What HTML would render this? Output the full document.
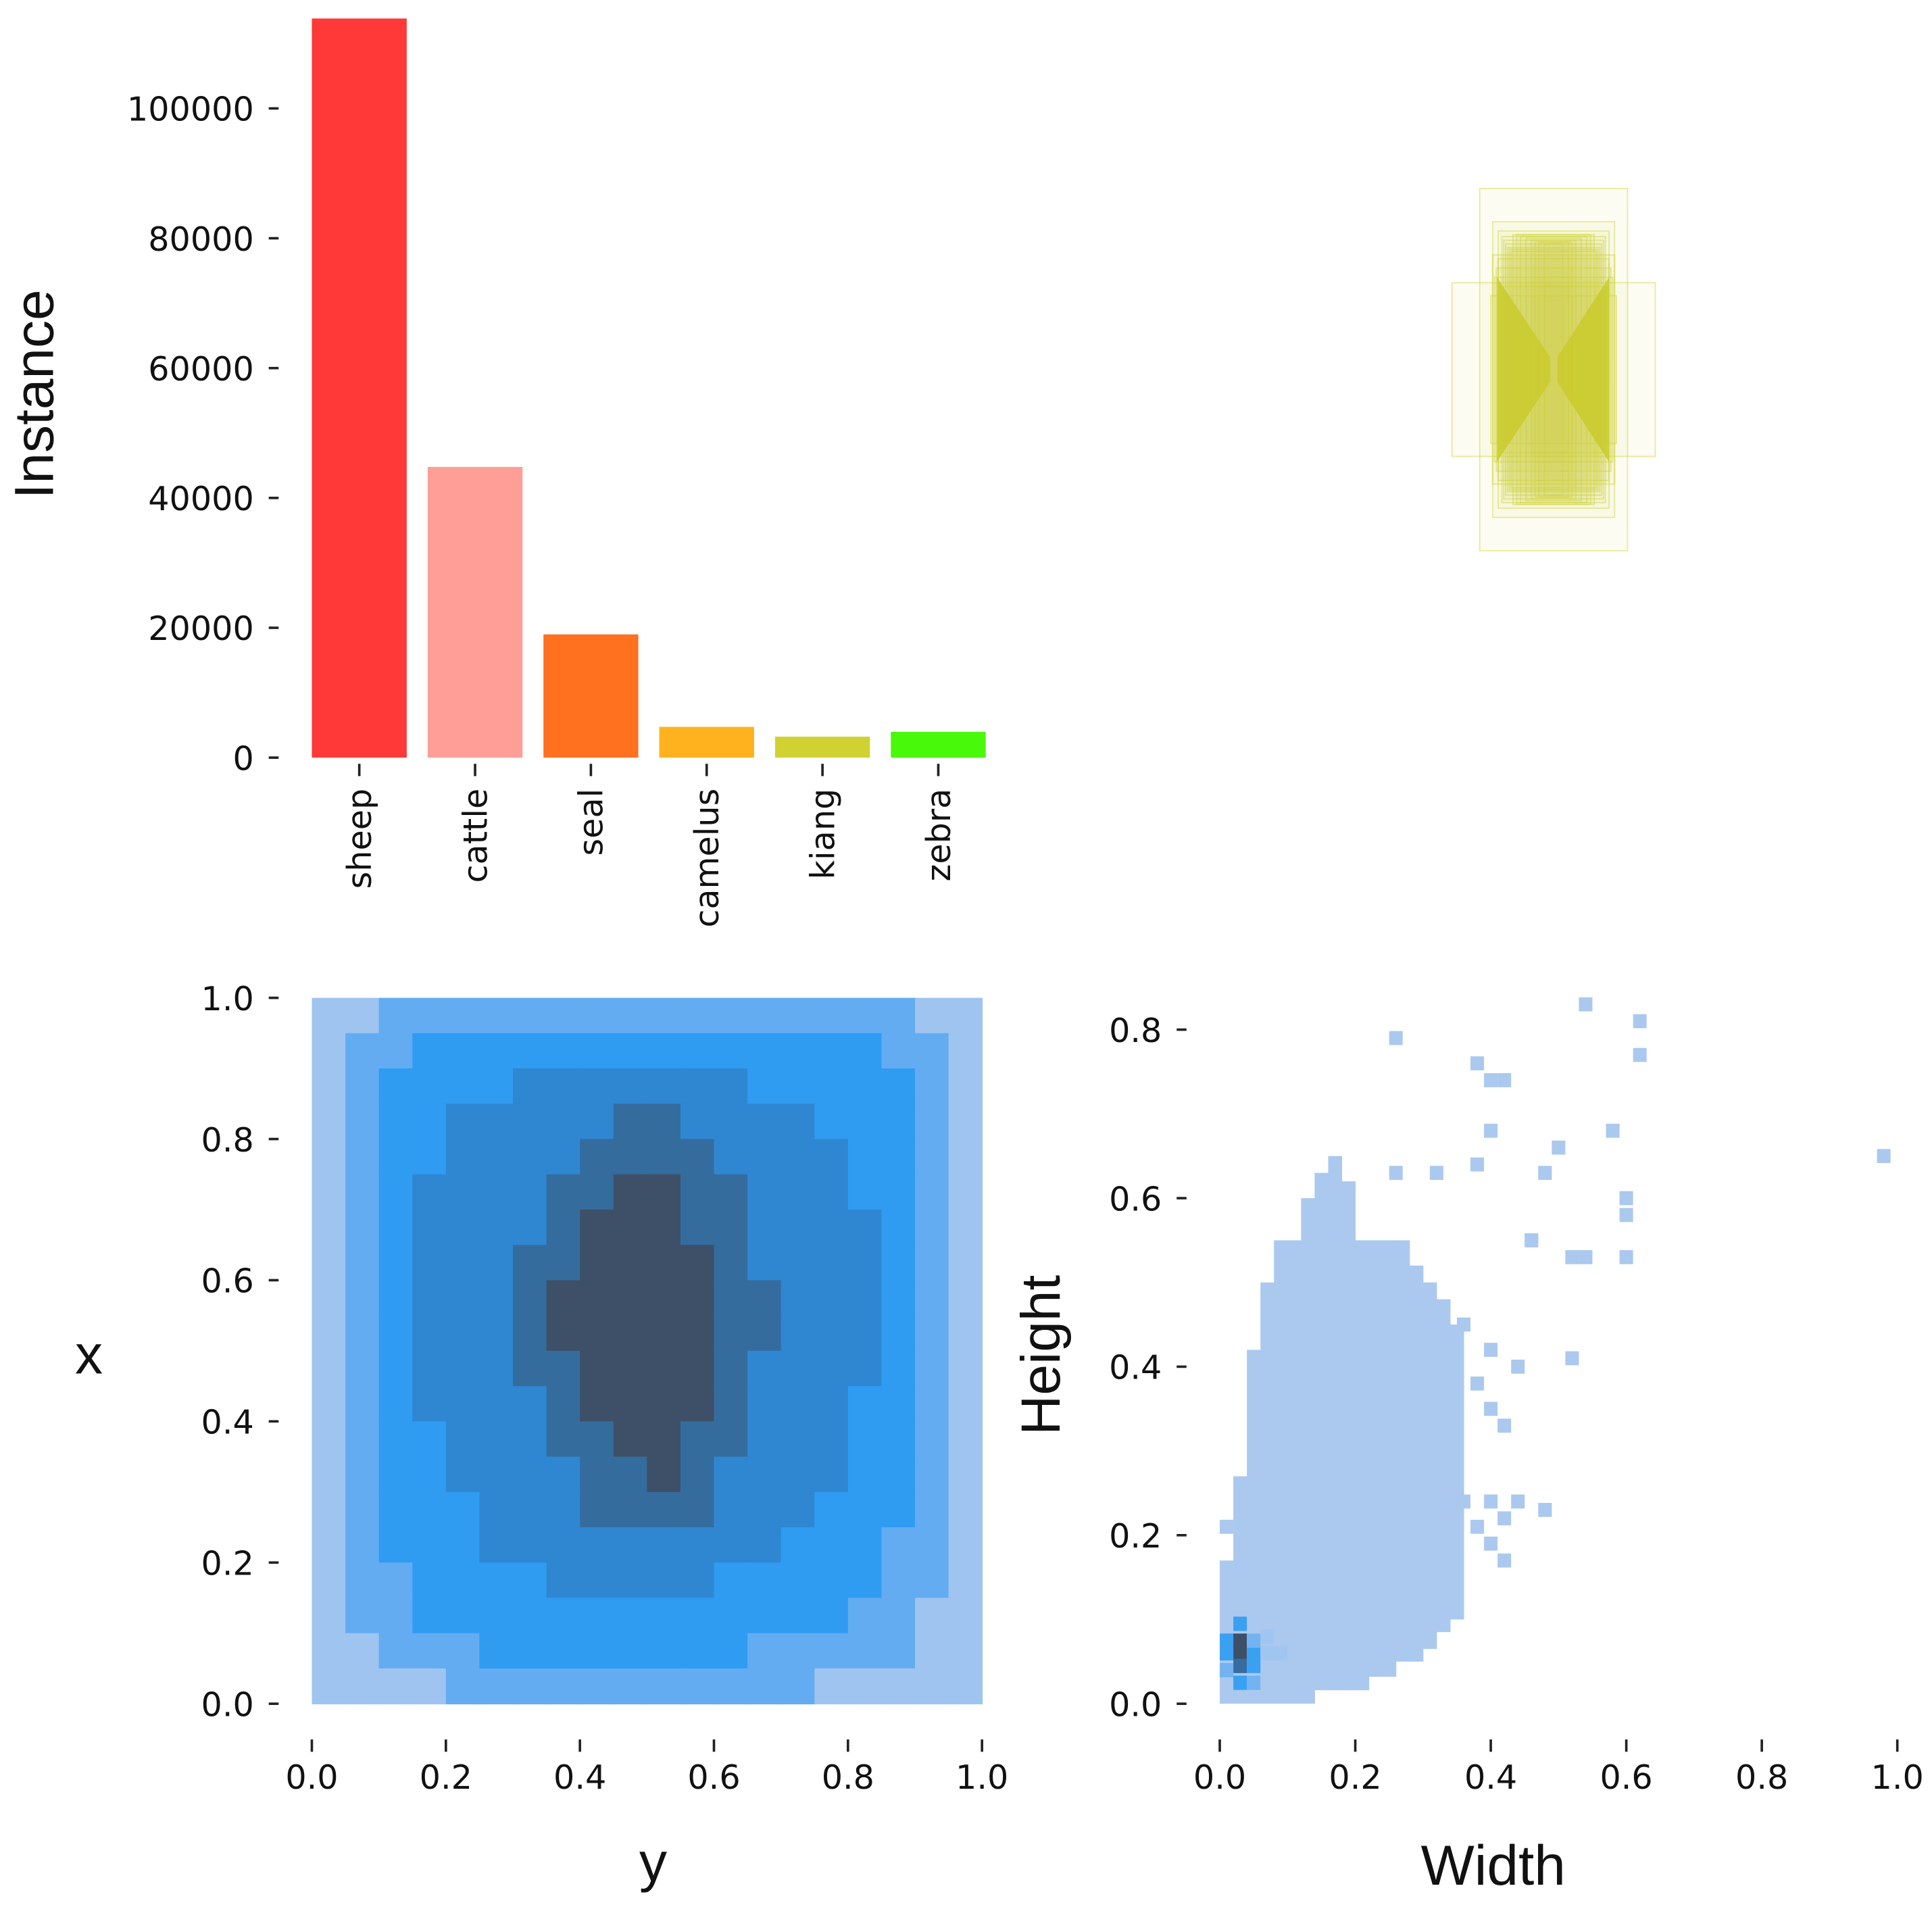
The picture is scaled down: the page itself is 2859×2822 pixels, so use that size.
<!DOCTYPE html>
<html><head><meta charset="utf-8"><style>html,body{margin:0;padding:0;background:#fff}svg{display:block}</style></head>
<body>
<svg id="root" xmlns="http://www.w3.org/2000/svg" width="2859" height="2822" viewBox="0 0 1568 1548" font-family="'DejaVu Sans','Liberation Sans',sans-serif">
<rect width="1568" height="1548" fill="#fff"/>
<g id="bar"></g>
<g id="boxes"></g>
<g id="xy"></g>
<g id="wh"></g>
</svg>
<script>
const classes = ['sheep','cattle','seal','camelus','kiang','zebra'];
const counts = [113850, 44780, 18980, 4740, 3230, 3980];
const barColors = ['#ff3838','#ff9d97','#ff701f','#ffb21d','#cfd231','#48f90a'];
const barTicks = [0,20000,40000,60000,80000,100000];
const boxW = [0.40,0.55,0.33,0.30,0.28,0.27,0.26,0.25,0.24,0.23,0.30,0.31,0.32,0.29,0.22,0.2,0.18,0.15,0.12,0.1,0.08,0.05,0.34,0.33];
const boxH = [0.98,0.47,0.80,0.75,0.72,0.70,0.68,0.66,0.65,0.64,0.60,0.55,0.50,0.45,0.73,0.73,0.72,0.71,0.70,0.69,0.69,0.68,0.40,0.62];
const xyTicks = [0,0.2,0.4,0.6,0.8,1.0];
const xyGrid = [
[0,0,1,1,1,1,1,1,1,1,1,1,1,1,1,1,1,1,0,0],
[0,1,1,2,2,2,2,2,2,2,2,2,2,2,2,2,2,1,1,0],
[0,1,2,2,2,2,3,3,3,3,3,3,3,2,2,2,2,2,1,0],
[0,1,2,2,3,3,3,3,3,4,4,3,3,3,3,2,2,2,1,0],
[0,1,2,2,3,3,3,3,4,4,4,4,3,3,3,3,2,2,1,0],
[0,1,2,3,3,3,3,4,4,5,5,4,4,3,3,3,2,2,1,0],
[0,1,2,3,3,3,3,4,5,5,5,4,4,3,3,3,3,2,1,0],
[0,1,2,3,3,3,4,4,5,5,5,5,4,3,3,3,3,2,1,0],
[0,1,2,3,3,3,4,5,5,5,5,5,4,4,3,3,3,2,1,0],
[0,1,2,3,3,3,4,5,5,5,5,5,4,4,3,3,3,2,1,0],
[0,1,2,3,3,3,4,4,5,5,5,5,4,3,3,3,3,2,1,0],
[0,1,2,3,3,3,3,4,5,5,5,5,4,3,3,3,2,2,1,0],
[0,1,2,2,3,3,3,4,4,5,5,4,4,3,3,3,2,2,1,0],
[0,1,2,2,3,3,3,3,4,4,5,4,3,3,3,3,2,2,1,0],
[0,1,2,2,2,3,3,3,4,4,4,4,3,3,3,2,2,2,1,0],
[0,1,2,2,2,3,3,3,3,3,3,3,3,3,2,2,2,1,1,0],
[0,1,1,2,2,2,2,3,3,3,3,3,2,2,2,2,2,1,1,0],
[0,1,1,2,2,2,2,2,2,2,2,2,2,2,2,2,1,1,0,0],
[0,0,1,1,1,2,2,2,2,2,2,2,2,1,1,1,1,1,0,0],
[0,0,0,0,1,1,1,1,1,1,1,1,1,1,1,0,0,0,0,0]];
const levelColors = ['#9fc4f0','#63acf2','#2f9cf2','#2f87d2','#356c9e','#3d5068'];
const whColTop = [0.17,0.27,0.42,0.50,0.55,0.55,0.60,0.63,0.65,0.62,0.55,0.55,0.55,0.55,0.52,0.50,0.48,0.45];
const whColBottom = [0,0,0,0,0,0,0,0.016,0.016,0.016,0.016,0.032,0.032,0.05,0.05,0.065,0.085,0.1];
const whOutW = [0.26,0.54,0.62,0.62,0.38,0.40,0.42,0.40,0.50,0.58,0.48,0.26,0.32,0.38,0.60,0.60,0.98,0.46,0.52,0.54,0.60,0.52,0.44,0.48,0.40,0.42,0.36,0.38,0.42,0.40,0.46,0.01,0.36,0.40,0.38,0.44,0.40,0.42];
const whOutH = [0.79,0.83,0.81,0.77,0.76,0.74,0.74,0.68,0.66,0.68,0.63,0.63,0.63,0.64,0.58,0.60,0.65,0.55,0.53,0.53,0.53,0.41,0.24,0.23,0.24,0.22,0.24,0.21,0.17,0.19,0.55,0.21,0.45,0.42,0.38,0.40,0.35,0.33];
const coreW = [0.01,0.01,0.03,0.03,0.03,0.03,0.03,0.05,0.05,0.05,0.01,0.07,0.09,0.07,0.05];
const coreH = [0.06,0.075,0.095,0.075,0.06,0.045,0.025,0.06,0.045,0.075,0.04,0.06,0.06,0.08,0.025];
const coreLvl = [2,2,2,5,5,4,2,2,2,1,1,0,0,0,1];
const whTicksX = [0,0.2,0.4,0.6,0.8,1.0];
const whTicksY = [0,0.2,0.4,0.6,0.8];

const NS='http://www.w3.org/2000/svg';
function mk(parent,tag,attrs,text){const e=document.createElementNS(NS,tag);for(const k in attrs)e.setAttribute(k,attrs[k]);if(text!==undefined)e.textContent=text;parent.appendChild(e);return e;}
const FS=27, TF="'Liberation Sans',sans-serif";
// BAR
const bar=document.getElementById('bar');
const by=v=>615-v/20000*105.4;
const bx=i=>253+94*i;
classes.forEach((c,i)=>{
 const r=mk(bar,'rect',{x:bx(i),y:by(counts[i]),width:77,height:615-by(counts[i]),fill:barColors[i]});
 
 
 const t=mk(bar,'line',{x1:bx(i)+38.5,x2:bx(i)+38.5,y1:620,y2:630,stroke:'#222','stroke-width':2});
 
 
 const l=mk(bar,'text',{x:0,y:0,'font-size':FS,'text-anchor':'end',fill:'#111',transform:`translate(${bx(i)+48},640) rotate(-90)`},c);
 
 
});
barTicks.forEach(v=>{
 const t=mk(bar,'line',{x1:218,x2:226,y1:by(v),y2:by(v),stroke:'#222','stroke-width':2});
 
 
 const l=mk(bar,'text',{x:206,y:by(v)+10,'font-size':FS,'text-anchor':'end',fill:'#111'},String(v));
 
 
});
const yt=mk(bar,'text',{x:0,y:0,'font-size':45,'font-family':TF,'text-anchor':'middle',fill:'#111',transform:'translate(43,320) rotate(-90)'},'Instance');


// BOXES
const bg=document.getElementById('boxes');
const cx=1261,cy=300,S=300;
mk(bg,'polygon',{points:'1215,225 1258,290 1258,310 1215,375',fill:'#cfd22e',opacity:0.85});
mk(bg,'polygon',{points:'1306,225 1264,290 1264,310 1306,375',fill:'#cfd22e',opacity:0.85});
boxW.forEach((w,i)=>{
 const h=boxH[i];
 const r=mk(bg,'rect',{x:cx-w*S/2,y:cy-h*S/2,width:w*S,height:h*S,fill:'#cfd22e','fill-opacity':0.06,stroke:'#cfd22e','stroke-opacity':0.45,'stroke-width':1});
 
 
});
// XY HEATMAP
const xy=document.getElementById('xy');
const X0=253,X1=797,Y0=1383,Y1=810;
const xs=v=>X0+v*(X1-X0), ys=v=>Y0-v*(Y0-Y1);
const n=xyGrid.length,m=xyGrid[0].length;
xyGrid.forEach((row,r)=>row.forEach((lv,c)=>{
 const e=mk(xy,'rect',{x:xs(c/m),y:ys(1-r/n),width:(X1-X0)/m+0.5,height:(Y0-Y1)/n+0.5,fill:levelColors[lv]});
 
 
}));
xyTicks.forEach(v=>{
 mk(xy,'line',{x1:218,x2:226,y1:ys(v),y2:ys(v),stroke:'#222','stroke-width':2});
 const l=mk(xy,'text',{x:206,y:ys(v)+10,'font-size':FS,'text-anchor':'end',fill:'#111'},v.toFixed(1));
 
 
 mk(xy,'line',{x1:xs(v),x2:xs(v),y1:1412,y2:1422,stroke:'#222','stroke-width':2});
 const l2=mk(xy,'text',{x:xs(v),y:1452,'font-size':FS,'text-anchor':'middle',fill:'#111'},v.toFixed(1));
 
 
});
const xl=mk(xy,'text',{x:72,y:1115,'font-size':45,'font-family':TF,'text-anchor':'middle',fill:'#111'},'x');


const yl=mk(xy,'text',{x:530,y:1527,'font-size':45,'font-family':TF,'text-anchor':'middle',fill:'#111'},'y');


// WH HEATMAP
const wh=document.getElementById('wh');
const wx=v=>990+v*550, hy=v=>1383-v*684;
const CW=0.02;
whColTop.forEach((t,i)=>{
 const b=whColBottom[i];
 const e=mk(wh,'rect',{x:wx(i*CW),y:hy(t),width:CW*550+0.3,height:hy(b)-hy(t),fill:'#abc9ee'});
 
 
});
whOutW.forEach((w,i)=>{
 const e=mk(wh,'rect',{x:wx(w)-5.5,y:hy(whOutH[i])-5.7,width:11,height:11.4,fill:'#abc9ee'});
 
 
});
const coreCols=['#a0c5f0','#73b3f2','#3aa0f2','#3085d0','#376d9e','#3d5068'];
coreW.forEach((w,i)=>{
 const e=mk(wh,'rect',{x:wx(w)-5.5,y:hy(coreH[i])-5.7,width:11,height:11.6,fill:coreCols[coreLvl[i]]});
 
 
});
whTicksY.forEach(v=>{
 mk(wh,'line',{x1:955,x2:963,y1:hy(v),y2:hy(v),stroke:'#222','stroke-width':2});
 const l=mk(wh,'text',{x:943,y:hy(v)+10,'font-size':FS,'text-anchor':'end',fill:'#111'},v.toFixed(1));
 
 
});
whTicksX.forEach(v=>{
 mk(wh,'line',{x1:wx(v),x2:wx(v),y1:1412,y2:1422,stroke:'#222','stroke-width':2});
 const l=mk(wh,'text',{x:wx(v),y:1452,'font-size':FS,'text-anchor':'middle',fill:'#111'},v.toFixed(1));
 
 
});
const wl=mk(wh,'text',{x:1212,y:1530,'font-size':46,'font-family':TF,'text-anchor':'middle',fill:'#111'},'Width');


const hl=mk(wh,'text',{x:0,y:0,'font-size':45,'font-family':TF,'text-anchor':'middle',fill:'#111',transform:'translate(860,1100) rotate(-90)'},'Height');


</script>
</body></html>
